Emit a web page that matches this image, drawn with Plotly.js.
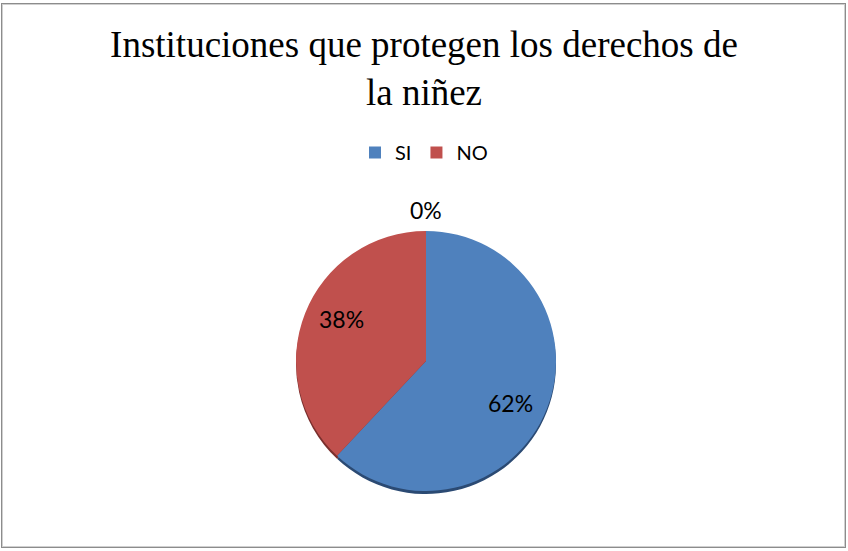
<!DOCTYPE html>
<html>
<head>
<meta charset="utf-8">
<script src="https://cdn.plot.ly/plotly-3.0.1.min.js"></script>
<style>
  html, body { margin: 0; padding: 0; background: #fff; }
  #frame { position: absolute; left: 1px; top: 3px; width: 843px; height: 543px; border: 1px solid #8c8c8c; box-shadow: 0 0 0 1px #d0d0d0 inset; }
  #chart { position: absolute; left: 0; top: 0; width: 848px; height: 551px; }
</style>
</head>
<body>
<div id="chart"></div>
<div id="frame"></div>
<script>
const categories = ['SI', 'NO'];
const values = [62, 38];
const otherValue = 0;           // third category, shown only by its "0%" label
const colors = ['#4F81BD', '#C0504D'];
const shadowColors = ['#2B4A73', '#7A2F2D'];
const titleText = 'Instituciones que protegen los derechos de<br>la niñez';

const allValues = values.concat([otherValue]);
const total = allValues.reduce((a, b) => a + b, 0);
const W = 848, H = 551;
const cx = 426, cy = 361, r = 130;
const dom = (dy) => ({
  x: [(cx - r) / W, (cx + r) / W],
  y: [(H - cy - dy - r) / H, (H - cy - dy + r) / H]
});

const shadow = {
  type: 'pie', labels: categories, values: values, sort: false,
  direction: 'clockwise', rotation: 0, textinfo: 'none', hoverinfo: 'skip',
  showlegend: false, marker: { colors: shadowColors, line: { width: 0 } },
  domain: dom(3)
};

const main = {
  type: 'pie', labels: categories, values: values, sort: false,
  direction: 'clockwise', rotation: 0,
  textinfo: 'none',
  marker: { colors: colors, line: { width: 0 } },
  domain: dom(0)
};

// percentage labels, placed at each slice's mid-angle (clockwise from 12 o'clock)
const labelFont = { family: 'Lato, "Noto Sans", sans-serif', size: 23, color: '#000' };
const annotations = [];
let cum = 0;
allValues.forEach((v) => {
  const mid = (cum + v / 2) / total * 2 * Math.PI;
  cum += v;
  const fx = v === 0 ? 1.16 : 0.695;
  const fy = v === 0 ? 1.16 : 0.87;
  const px = cx + fx * r * Math.sin(mid);
  const py = cy - fy * r * Math.cos(mid);
  annotations.push({
    text: Math.round(v / total * 100) + '%',
    xref: 'paper', yref: 'paper', x: px / W, y: (H - py) / H,
    xanchor: 'center', yanchor: 'middle',
    showarrow: false, font: labelFont
  });
});

const layout = {
  width: W, height: H,
  margin: { l: 0, r: 0, t: 0, b: 0 },
  paper_bgcolor: '#fff',
  title: {
    text: titleText,
    font: { family: '"Liberation Serif", "Times New Roman", serif', size: 37, color: '#000' },
    x: 0.5, xanchor: 'center', xref: 'paper',
    y: 1 - 57 / H, yanchor: 'top', yref: 'container'
  },
  showlegend: true,
  legend: {
    orientation: 'h', x: 0.5, xanchor: 'center', y: 1 - 133 / H, yanchor: 'top',
    font: { family: 'Lato, "Noto Sans", sans-serif', size: 20, color: '#000' },
    traceorder: 'normal'
  },
  annotations: annotations
};

Plotly.newPlot('chart', [shadow, main], layout, { displayModeBar: false, staticPlot: true });
</script>
</body>
</html>
